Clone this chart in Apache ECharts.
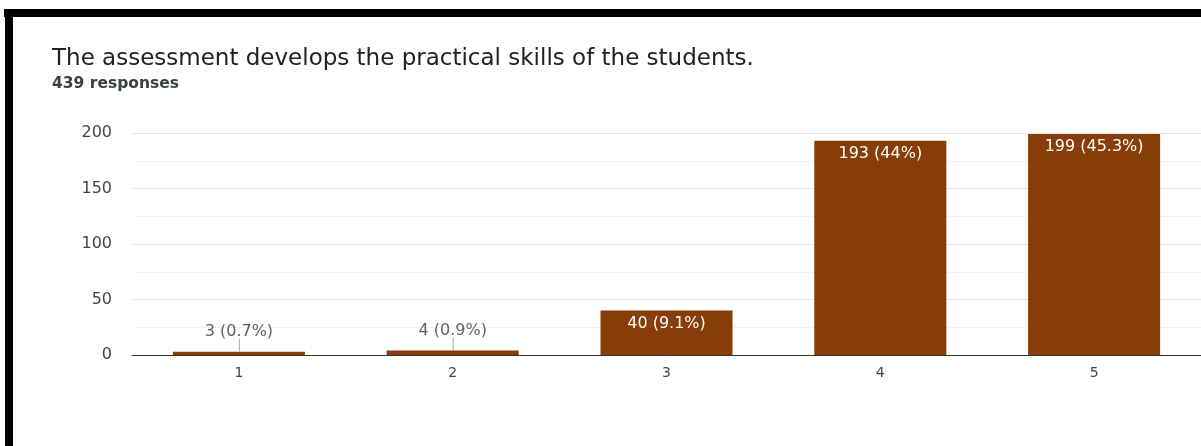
<!DOCTYPE html>
<html>
<head>
<meta charset="utf-8">
<script src="https://cdn.jsdelivr.net/npm/echarts@6/dist/echarts.min.js"></script>
<style>
html,body{margin:0;padding:0;background:#fff;}
#c{width:1201px;height:446px;}
</style>
</head>
<body>
<div id="c"></div>
<script>
const titleText = 'The assessment develops the practical skills of the students.';
const subText = '439 responses';
const categories = ['1', '2', '3', '4', '5'];
const counts = [3, 4, 40, 193, 199];
const percents = ['0.7%', '0.9%', '9.1%', '44%', '45.3%'];
const yTicks = [0, 50, 100, 150, 200];

const chart = echarts.init(document.getElementById('c'));
const font = '"DejaVu Sans", Verdana, sans-serif';

const barData = counts.map((v, i) => {
  const small = v < 20;
  return {
    value: v,
    label: small ? {
      position: 'top', distance: 12, color: '#5f6368'
    } : {
      position: 'insideTop', distance: 5, color: '#ffffff'
    }
  };
});

chart.setOption({
  animation: false,
  textStyle: { fontFamily: font },
  title: {
    text: titleText,
    subtext: subText,
    left: 47, top: 43,
    itemGap: 5,
    textStyle: { fontSize: 23, fontWeight: 'normal', color: '#202124', fontFamily: font },
    subtextStyle: { fontSize: 15.5, fontWeight: 'bold', color: '#3c4043', fontFamily: font }
  },
  graphic: [
    { type: 'rect', left: 4, top: 9, shape: { width: 1197, height: 8 }, style: { fill: '#000' }, z: 100 },
    { type: 'rect', left: 5, top: 9, shape: { width: 8, height: 437 }, style: { fill: '#000' }, z: 100 }
  ],
  grid: { left: 132, right: -1, top: 133, bottom: 91 },
  xAxis: {
    type: 'category',
    data: categories,
    axisLine: { lineStyle: { color: '#333', width: 1 } },
    axisTick: { show: false },
    axisLabel: { color: '#444', fontSize: 14, margin: 11, fontFamily: font }
  },
  yAxis: {
    type: 'value',
    min: yTicks[0], max: yTicks[yTicks.length - 1], interval: 50,
    axisLine: { show: false },
    axisTick: { show: false },
    axisLabel: { color: '#444', fontSize: 16, margin: 20, fontFamily: font },
    splitLine: { lineStyle: { color: '#e6e6e6' } },
    minorTick: { show: false, splitNumber: 2 },
    minorSplitLine: { show: true, lineStyle: { color: '#f2f2f2' } }
  },
  series: [{
    type: 'bar',
    data: barData,
    barWidth: 132,
    itemStyle: { color: '#873d07' },
    label: {
      show: true,
      fontSize: 16,
      fontFamily: font,
      formatter: p => p.value + ' (' + percents[p.dataIndex] + ')'
    }
  }, {
    type: 'custom',
    data: counts.map((v, i) => [i, v]),
    renderItem: (params, api) => {
      const v = api.value(1);
      if (v >= 20) return null;
      const p = api.coord([api.value(0), v]);
      return {
        type: 'line',
        shape: { x1: p[0] + 0.5, y1: p[1], x2: p[0] + 0.5, y2: p[1] - 13 },
        style: { stroke: '#aaaaaa', lineWidth: 1 }
      };
    },
    z: 3
  }]
});
</script>
</body>
</html>
